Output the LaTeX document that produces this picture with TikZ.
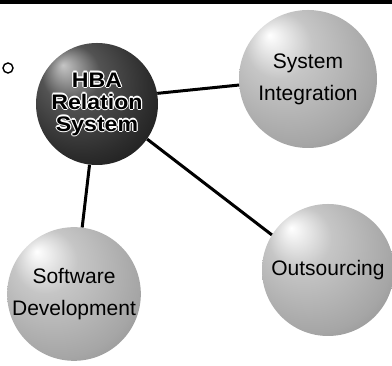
\documentclass[tikz,border=0pt]{standalone}
\usepackage{fontspec}
\setmainfont{Liberation Sans}
\newfontfamily\hbafont{Liberation Sans}[FakeStretch=1.1]
\pgfdeclareradialshading{darkball}{\pgfpoint{-14bp}{16bp}}{color(0bp)=(gray!45); color(12bp)=(gray!65!black); color(28bp)=(gray!35!black); color(50bp)=(black)}
\pgfdeclareradialshading{lightball}{\pgfpoint{-14bp}{16bp}}{color(0bp)=(white); color(12bp)=(gray!45); color(30bp)=(gray!70); color(50bp)=(gray!85!black)}
% white halo round black letters
\newcommand\halobit[3]{\rlap{\hspace*{#1}\raisebox{#2}{\textcolor{white}{#3}}}}
\newcommand\halo[1]{\halobit{1.1pt}{0pt}{#1}\halobit{-1.1pt}{0pt}{#1}\halobit{0pt}{1.1pt}{#1}\halobit{0pt}{-1.1pt}{#1}%
\halobit{.8pt}{.8pt}{#1}\halobit{-.8pt}{.8pt}{#1}\halobit{.8pt}{-.8pt}{#1}\halobit{-.8pt}{-.8pt}{#1}#1}
\begin{document}
\begin{tikzpicture}[x=1pt,y=1pt,
  sphere/.style={circle,inner sep=0pt,shading=lightball,align=center,
    font=\fontsize{21}{32}\selectfont},
  link/.style={line width=3pt}]
\useasboundingbox (0,0) rectangle (392,366);
\fill (0,362) rectangle (392,366);
\node [circle,draw,line width=1.4pt,minimum size=10pt,inner sep=0pt] (dot) at (8,298) {};
\node [sphere,minimum size=122pt,shading=darkball,
  font=\hbafont\bfseries\fontsize{21}{22}\selectfont] (hba) at (97,262)
  {\halo{HBA}\\\halo{Relation}\\\halo{System}};
\node [sphere,minimum size=138pt] (si) at (308,287) {System\\Integration};
\node [sphere,minimum size=132pt] (sd) at (74,72) {Software\\Development};
\node [sphere,minimum size=132pt] (out) at (328,96) {Outsourcing};
\draw [link] (hba.10) -- (si.185);
\draw [link] (hba.-35) -- (out.148);
\draw [link] (hba.-97) -- (sd.83);
\end{tikzpicture}
\end{document}
